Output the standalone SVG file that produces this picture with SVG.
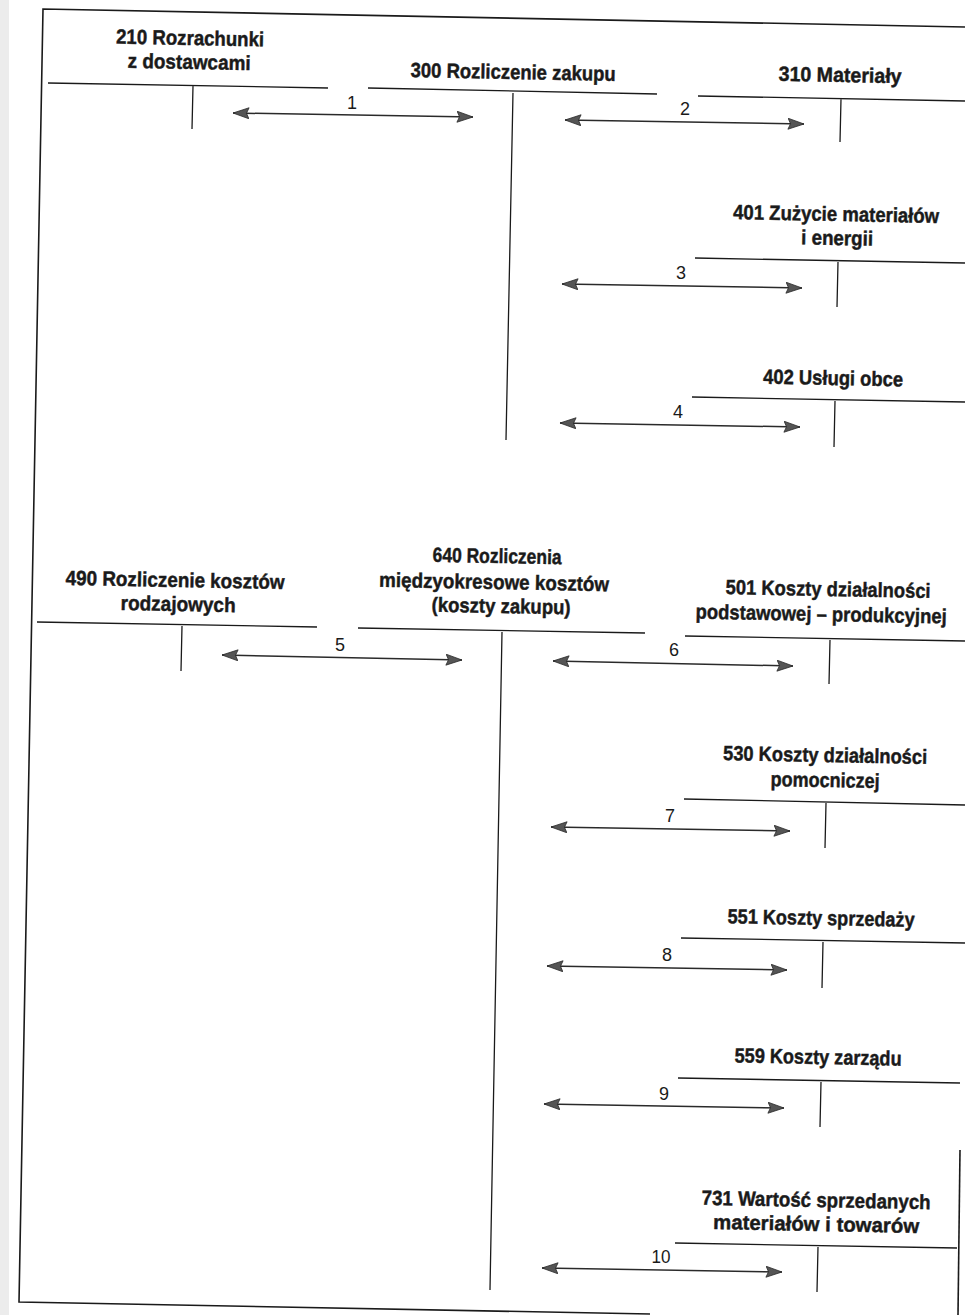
<svg xmlns="http://www.w3.org/2000/svg" width="965" height="1315" viewBox="0 0 965 1315">
<defs>
<style>
.t{font-family:"Liberation Sans",Arial,sans-serif;font-weight:bold;font-size:20.5px;fill:#1a1a1a;stroke:#1a1a1a;stroke-width:0.45;text-anchor:middle}
.n{font-family:"Liberation Sans",Arial,sans-serif;font-size:18px;fill:#1a1a1a;text-anchor:middle}
.l{stroke:#1a1a1a;stroke-width:1.3;fill:none}
.f{stroke:#1a1a1a;stroke-width:1.6;fill:none}
.a{stroke:#2a2a2a;stroke-width:1.5;fill:none;marker-start:url(#ah);marker-end:url(#ah)}
</style>
<marker id="ah" viewBox="0 0 17 12" refX="16.5" refY="6" markerWidth="17" markerHeight="12" markerUnits="userSpaceOnUse" orient="auto-start-reverse">
<path d="M0.5,0.5 L16.5,6 L0.5,11.5 L3,6 z" fill="#555" stroke="#2a2a2a" stroke-width="0.8" stroke-linejoin="round"/>
</marker>
</defs>
<rect width="965" height="1315" fill="#fff"/>
<rect x="0" y="0" width="9" height="1315" fill="#ececec"/>
<g id="frame">
<path class="f" d="M965,27 L43,9 L19,1302 L650,1314"/>
<path class="f" d="M960,1150 L958,1315"/>
</g>
<g id="acc210">
<text class="t" x="190" y="45" textLength="148" lengthAdjust="spacingAndGlyphs" transform="rotate(1.1 190 45)">210 Rozrachunki</text>
<text class="t" x="189" y="69" textLength="123" lengthAdjust="spacingAndGlyphs" transform="rotate(1.1 189 69)">z dostawcami</text>
<path class="l" d="M48,83 L328,88 M193,86 L192,129"/>
</g>
<g id="acc300">
<text class="t" x="513" y="79" textLength="205" lengthAdjust="spacingAndGlyphs" transform="rotate(1.1 513 79)">300 Rozliczenie zakupu</text>
<path class="l" d="M368,88 L657,94 M513,93 L506,440"/>
</g>
<g id="acc310">
<text class="t" x="840" y="82" textLength="123" lengthAdjust="spacingAndGlyphs" transform="rotate(1.1 840 82)">310 Materiały</text>
<path class="l" d="M698,96 L965,101 M841,99 L840,142"/>
</g>
<g id="acc401">
<text class="t" x="836" y="221" textLength="206" lengthAdjust="spacingAndGlyphs" transform="rotate(1.1 836 221)">401 Zużycie materiałów</text>
<text class="t" x="837" y="245" textLength="72" lengthAdjust="spacingAndGlyphs" transform="rotate(1.1 837 245)">i energii</text>
<path class="l" d="M695,258 L965,263 M838,262 L837,307"/>
</g>
<g id="acc402">
<text class="t" x="833" y="385" textLength="140" lengthAdjust="spacingAndGlyphs" transform="rotate(1.1 833 385)">402 Usługi obce</text>
<path class="l" d="M692,397 L965,402 M835,401 L834,447"/>
</g>
<g id="acc490">
<text class="t" x="175" y="587" textLength="219" lengthAdjust="spacingAndGlyphs" transform="rotate(1.1 175 587)">490 Rozliczenie kosztów</text>
<text class="t" x="178" y="611" textLength="115" lengthAdjust="spacingAndGlyphs" transform="rotate(1.1 178 611)">rodzajowych</text>
<path class="l" d="M37,622 L317,627 M182,626 L181,671"/>
</g>
<g id="acc640">
<text class="t" x="497" y="563" textLength="129" lengthAdjust="spacingAndGlyphs" transform="rotate(1.1 497 563)">640 Rozliczenia</text>
<text class="t" x="494" y="589" textLength="230" lengthAdjust="spacingAndGlyphs" transform="rotate(1.1 494 589)">międzyokresowe kosztów</text>
<text class="t" x="501" y="613" textLength="139" lengthAdjust="spacingAndGlyphs" transform="rotate(1.1 501 613)">(koszty zakupu)</text>
<path class="l" d="M358,628 L645,633 M502,632 L490,1290"/>
</g>
<g id="acc501">
<text class="t" x="828" y="596" textLength="205" lengthAdjust="spacingAndGlyphs" transform="rotate(1.1 828 596)">501 Koszty działalności</text>
<text class="t" x="0" y="0" transform="translate(821 621) rotate(1.1) scale(0.9 1)">podstawowej – produkcyjnej</text>
<path class="l" d="M685,636 L965,641 M830,640 L829,684"/>
</g>
<g id="acc530">
<text class="t" x="825" y="762" textLength="204" lengthAdjust="spacingAndGlyphs" transform="rotate(1.1 825 762)">530 Koszty działalności</text>
<text class="t" x="825" y="787" textLength="109" lengthAdjust="spacingAndGlyphs" transform="rotate(1.1 825 787)">pomocniczej</text>
<path class="l" d="M684,799 L965,805 M826,803 L825,848"/>
</g>
<g id="acc551">
<text class="t" x="821" y="925" textLength="187" lengthAdjust="spacingAndGlyphs" transform="rotate(1.1 821 925)">551 Koszty sprzedaży</text>
<path class="l" d="M681,938 L965,943 M823,942 L822,988"/>
</g>
<g id="acc559">
<text class="t" x="818" y="1064" textLength="167" lengthAdjust="spacingAndGlyphs" transform="rotate(1.1 818 1064)">559 Koszty zarządu</text>
<path class="l" d="M678,1078 L960,1083 M821,1082 L820,1127"/>
</g>
<g id="acc731">
<text class="t" x="816" y="1207" textLength="229" lengthAdjust="spacingAndGlyphs" transform="rotate(1.1 816 1207)">731 Wartość sprzedanych</text>
<text class="t" x="816" y="1231" textLength="206" lengthAdjust="spacingAndGlyphs" transform="rotate(1.1 816 1231)">materiałów i towarów</text>
<path class="l" d="M675,1243 L957,1248 M818,1247 L817,1292"/>
</g>
<g id="connectors">
<path class="a" d="M233,113 L473,117"/>
<path class="a" d="M565,120 L804,124"/>
<path class="a" d="M562,284 L802,288"/>
<path class="a" d="M560,423 L800,427"/>
<path class="a" d="M222,655 L462,660"/>
<path class="a" d="M553,661 L793,666"/>
<path class="a" d="M551,827 L790,831"/>
<path class="a" d="M547,966 L787,970"/>
<path class="a" d="M544,1104 L784,1108"/>
<path class="a" d="M542,1268 L782,1272"/>
</g>
<g id="labels">
<text class="n" x="352" y="109">1</text>
<text class="n" x="685" y="115">2</text>
<text class="n" x="681" y="279">3</text>
<text class="n" x="678" y="418">4</text>
<text class="n" x="340" y="651">5</text>
<text class="n" x="674" y="656">6</text>
<text class="n" x="670" y="822">7</text>
<text class="n" x="667" y="961">8</text>
<text class="n" x="664" y="1100">9</text>
<text class="n" x="661" y="1263" textLength="19" lengthAdjust="spacingAndGlyphs">10</text>
</g>
</svg>
